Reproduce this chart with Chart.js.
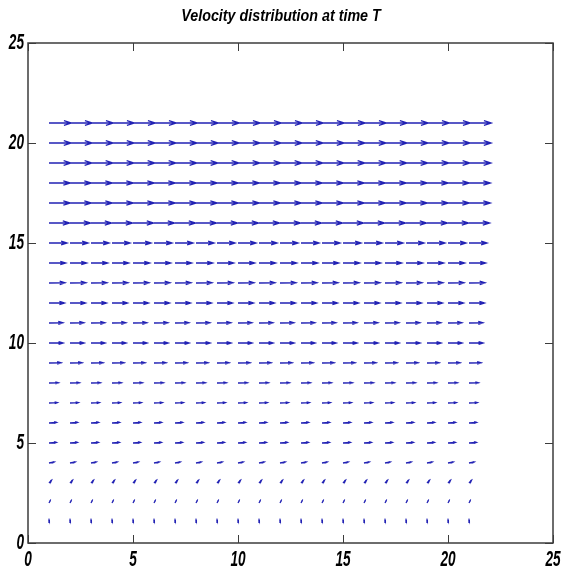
<!DOCTYPE html>
<html>
<head>
<meta charset="utf-8">
<title>Velocity distribution</title>
<script src="https://cdn.jsdelivr.net/npm/chart.js@4.4.1/dist/chart.umd.min.js"></script>
<style>
  html, body { margin: 0; padding: 0; background: #fff; }
  canvas { display: block; }
</style>
</head>
<body>
<canvas id="quiver" width="562" height="577"></canvas>
<script>
// grid positions of the arrows
const xs = [1, 2, 3, 4, 5, 6, 7, 8, 9, 10, 11, 12, 13, 14, 15, 16, 17, 18, 19, 20, 21];
const ys = [1, 2, 3, 4, 5, 6, 7, 8, 9, 10, 11, 12, 13, 14, 15, 16, 17, 18, 19, 20, 21];

// velocity components for each row (y = 1 .. 21)
const uRow = [0.00, 0.06, 0.12, 0.25, 0.35, 0.36, 0.40, 0.45, 0.58, 0.68, 0.66,
              0.74, 0.76, 0.80, 0.86, 0.98, 1.02, 1.02, 1.04, 1.05, 1.06];
const vRow = [0.16, 0.12, 0.14, 0.05, 0.03, 0.03, 0.02, 0.01, 0.01, 0.00, 0.01,
              0.00, 0.01, 0.00, 0.00, 0.00, 0.00, 0.00, 0.00, 0.00, 0.00];

const axisTicks = [0, 5, 10, 15, 20, 25];

// arrowhead proportions (same as the quiver defaults)
const alpha = 0.33;
const beta = 0.33;

// shafts and heads as one polyline, broken by null points
const arrows = [];
ys.forEach((y, r) => {
  xs.forEach(x => {
    const u = uRow[r], v = vRow[r];
    const tx = x + u, ty = y + v;
    arrows.push({ x: x, y: y }, { x: tx, y: ty }, { x: null, y: null });
    arrows.push(
      { x: tx - alpha * (u + beta * v), y: ty - alpha * (v - beta * u) },
      { x: tx, y: ty },
      { x: tx - alpha * (u - beta * v), y: ty - alpha * (v + beta * u) },
      { x: null, y: null }
    );
  });
});

// box around the axes with tick marks pointing inward on all four sides
const frame = {
  id: 'frame',
  afterDraw(chart) {
    const { ctx, chartArea: a, scales } = chart;
    const tl = 8;
    ctx.save();
    ctx.strokeStyle = '#3c3c3c';
    ctx.lineWidth = 1.5;
    ctx.strokeRect(a.left, a.top, a.right - a.left, a.bottom - a.top);
    ctx.lineWidth = 1;
    ctx.beginPath();
    axisTicks.forEach(t => {
      const px = Math.round(scales.x.getPixelForValue(t)) + 0.5;
      ctx.moveTo(px, a.bottom); ctx.lineTo(px, a.bottom - tl);
      ctx.moveTo(px, a.top); ctx.lineTo(px, a.top + tl);
      const py = Math.round(scales.y.getPixelForValue(t)) + 0.5;
      ctx.moveTo(a.left, py); ctx.lineTo(a.left + tl, py);
      ctx.moveTo(a.right, py); ctx.lineTo(a.right - tl, py);
    });
    ctx.stroke();
    ctx.restore();
  }
};

// no narrow bold-italic face is installed, so squeeze text horizontally
// around its anchor point (tick labels more than the title)
const canvas = document.getElementById('quiver');
const ctx2d = canvas.getContext('2d');
const rawFillText = ctx2d.fillText.bind(ctx2d);
ctx2d.fillText = function (text, x, y) {
  const m = /(\d+(?:\.\d+)?)px/.exec(this.font);
  const k = m && +m[1] >= 20 ? 0.62 : 0.84;
  this.save();
  this.translate(x, y);
  this.scale(k, 1);
  rawFillText(text, 0, 0);
  this.restore();
};

const family = "'Liberation Sans', Arial, sans-serif";
const tickFont = { family: family, size: 22, style: 'italic', weight: 'bold' };

new Chart(ctx2d, {
  type: 'scatter',
  data: {
    datasets: [{
      data: arrows,
      showLine: true,
      spanGaps: false,
      borderColor: '#2222b4',
      borderWidth: 1.3,
      pointRadius: 0,
      tension: 0
    }]
  },
  options: {
    responsive: false,
    animation: false,
    layout: { padding: 0 },
    plugins: {
      legend: { display: false },
      tooltip: { enabled: false },
      title: {
        display: true,
        text: 'Velocity distribution at time T',
        color: '#000',
        font: { family: family, size: 17, style: 'italic', weight: 'bold' },
        padding: { top: 6, bottom: 16.6 }
      }
    },
    scales: {
      x: {
        type: 'linear',
        min: 0,
        max: 25,
        grid: { display: false, drawTicks: false },
        border: { display: false },
        ticks: { stepSize: 5, color: '#000', font: tickFont, padding: 4, maxRotation: 0 },
        afterFit(scale) {
          scale.height = 34;
          scale.paddingLeft = 0;
          scale.paddingRight = 0;
        }
      },
      y: {
        type: 'linear',
        min: 0,
        max: 25,
        grid: { display: false, drawTicks: false },
        border: { display: false },
        ticks: { stepSize: 5, color: '#000', font: tickFont, padding: 4 },
        afterFit(scale) {
          scale.width = 28;
          scale.paddingTop = 0;
          scale.paddingBottom = 0;
        }
      },
      // empty strip on the right, keeps the title centred on the page
      yRight: {
        type: 'linear',
        position: 'right',
        min: 0,
        max: 25,
        grid: { display: false, drawTicks: false },
        border: { display: false },
        ticks: { display: false },
        afterFit(scale) {
          scale.width = 9;
          scale.paddingTop = 0;
          scale.paddingBottom = 0;
        }
      }
    }
  },
  plugins: [frame]
});
</script>
</body>
</html>
